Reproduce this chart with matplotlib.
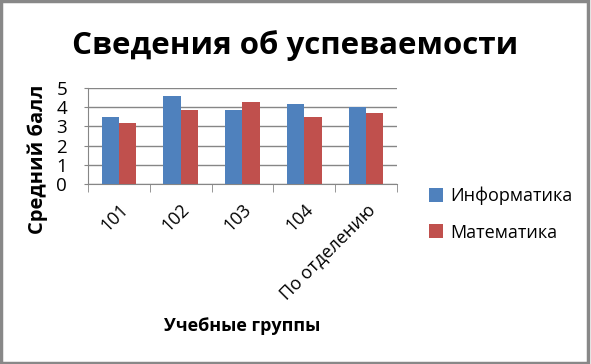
import numpy as np
import matplotlib
matplotlib.use("Agg")
import matplotlib.pyplot as plt
from matplotlib.patches import Rectangle

groups = ["101", "102", "103", "104", "По отделению"]
informatics = [3.5, 4.6, 3.85, 4.2, 4.0]
mathematics = [3.2, 3.85, 4.3, 3.5, 3.7]
series_names = ["Информатика", "Математика"]

plt.rcParams["font.family"] = ["Open Sans", "DejaVu Sans"]

fig = plt.figure(figsize=(5.91, 3.64), dpi=100)
ax = fig.add_axes([0.1489, 0.4953, 0.5228, 0.2621])

x = np.arange(len(groups))
w = 0.28
ax.bar(x - w / 2, informatics, w, color="#4F81BD", label=series_names[0], zorder=3)
ax.bar(x + w / 2, mathematics, w, color="#C0504D", label=series_names[1], zorder=3)

ax.set_xlim(-0.5, len(groups) - 0.5)
ax.set_ylim(0, 5)
ax.set_yticks(range(0, 6))
ax.tick_params(axis="y", labelsize=13.5, length=3, color="#868686", pad=12)
ax.yaxis.grid(True, color="#868686", linewidth=1, zorder=0)

ax.set_xticks(x)
ax.set_xticklabels(groups, rotation=45, ha="right", rotation_mode="anchor", fontsize=13)
ax.tick_params(axis="x", length=0, pad=12)
ax.set_xticks(np.arange(-0.5, len(groups)), minor=True)
ax.tick_params(axis="x", which="minor", length=6, color="#868686")

for side in ["top", "right"]:
    ax.spines[side].set_visible(False)
for side in ["left", "bottom"]:
    ax.spines[side].set_color("#868686")

ax.set_ylabel("Средний балл", fontsize=14.5, fontweight="bold")
ax.yaxis.set_label_coords(-0.128, 0.26)
ax.set_xlabel("Учебные группы", fontsize=13, fontweight="bold")
ax.xaxis.set_label_coords(0.5, -1.4)

fig.text(0.5, 0.875, "Сведения об успеваемости", ha="center", va="center",
         fontsize=22.5, fontweight="bold")

ax.legend(loc="center left", bbox_to_anchor=(1.05, -0.32), frameon=False,
          fontsize=13, handlelength=0.8, handleheight=0.8, handletextpad=0.4,
          labelspacing=1.0)

fig.patches.append(Rectangle((0.002, 0.003), 0.993, 0.993, transform=fig.transFigure,
                             fill=False, edgecolor="#888888", linewidth=2.5))

fig.savefig("out.png", dpi=100)
